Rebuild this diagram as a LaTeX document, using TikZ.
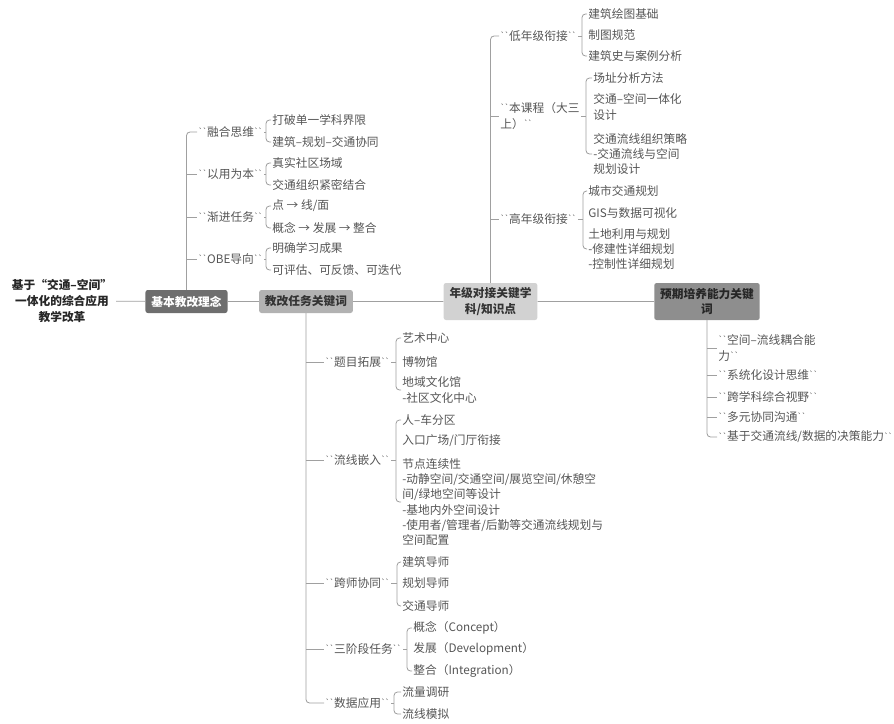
\documentclass[tikz,border=0pt]{standalone}
\usepackage{fontspec}
\newfontfamily\cjk{Noto Sans CJK SC}
\usepackage{tikz}
\definecolor{linegray}{HTML}{A0A0A0}
\definecolor{leafgray}{HTML}{555555}
\definecolor{darkbox}{HTML}{6E6E6E}
\definecolor{midbox}{HTML}{B2B2B2}
\definecolor{lightbox}{HTML}{D2D2D2}
\definecolor{greybox}{HTML}{8E8E8E}
% small double tick round the branch labels
\newcommand\tk{\raisebox{1.6pt}{\fontsize{6.5}{6.5}\selectfont`\kern-0.4pt`}}

\begin{document}
\begin{tikzpicture}[x=0.03cm,y=-0.03cm,font=\cjk\fontsize{10}{13}\selectfont]
    \tikzset{
        link/.style={draw=linegray,line width=0.7pt,rounded corners=3pt},
        topic/.style={rounded corners=2pt,inner xsep=5pt,minimum height=0.69cm,align=center,font=\cjk\bfseries\fontsize{10}{13}\selectfont},
        branch/.style={anchor=west,inner sep=1pt,align=left,text=leafgray},
        leaf/.style={anchor=west,inner sep=1pt,align=left,text=leafgray}
    }
    \useasboundingbox (0,0) rectangle (894,723);
    % root and main topics
    \node[align=center,font=\cjk\bfseries\fontsize{10}{14}\selectfont,text=black!85] (root) at (62,301) {基于“交通–空间”\\一体化的综合应用\\教学改革};
    \node[topic,fill=darkbox,text=white] (ideas) at (186.5,301.5) {基本教改理念};
    \node[topic,fill=midbox,text=black!80] (tasks) at (306,301.5) {教改任务关键词};
    \node[topic,fill=lightbox,text=black!80,minimum height=1.11cm] (subjects) at (490.5,301.5) {年级对接关键学\\科/知识点};
    \node[topic,fill=greybox,text=black!85,minimum height=1.11cm] (abilities) at (707,301.5) {预期培养能力关键\\词};
    \draw[link] (root) -- (ideas) -- (tasks) -- (subjects) -- (abilities);
    % ideas
    \node[branch] (i1) at (197,132) {\tk 融合思维\tk};
    \node[leaf] (i1a) at (271,120) {打破单一学科界限};
    \node[leaf] (i1b) at (271,142) {建筑–规划–交通协同};
    \coordinate (k1) at (266,132);
    \node[branch] (i2) at (197,174) {\tk 以用为本\tk};
    \node[leaf] (i2a) at (271,163) {真实社区场域};
    \node[leaf] (i2b) at (271,185) {交通组织紧密结合};
    \coordinate (k2) at (266,174);
    \node[branch] (i3) at (197,217) {\tk 渐进任务\tk};
    \node[leaf] (i3a) at (271,206) {点 → 线/面};
    \node[leaf] (i3b) at (271,228) {概念 → 发展 → 整合};
    \coordinate (k3) at (266,217);
    \node[branch] (i4) at (197,259) {\tk OBE导向\tk};
    \node[leaf] (i4a) at (271,248) {明确学习成果};
    \node[leaf] (i4b) at (271,270) {可评估、可反馈、可迭代};
    \coordinate (k4) at (266,259);
    \draw[link] (ideas.north) |- (i1.west);
    \foreach \br in {i2,i3,i4} \draw[link] (ideas.north |- \br.west) -- (\br.west);
    % tasks
    \node[branch] (t1) at (324,362) {\tk 题目拓展\tk};
    \node[leaf] (t1a) at (401,338) {艺术中心};
    \node[leaf] (t1b) at (401,362) {博物馆};
    \node[leaf] (t1c) at (401,390) {地域文化馆\\-社区文化中心};
    \coordinate (k5) at (396,362);
    \node[branch] (t2) at (324,460) {\tk 流线嵌入\tk};
    \node[leaf] (t2a) at (401,420) {人–车分区};
    \node[leaf] (t2b) at (401,441) {入口广场/门厅衔接};
    \node[leaf] (t2c) at (401,502) {节点连续性\\-动静空间/交通空间/展览空间/休憩空\\间/绿地空间等设计\\-基地内外空间设计\\-使用者/管理者/后勤等交通流线规划与\\空间配置};
    \coordinate (k6) at (396,460);
    \node[branch] (t3) at (324,583) {\tk 跨师协同\tk};
    \node[leaf] (t3a) at (401,562) {建筑导师};
    \node[leaf] (t3b) at (401,583) {规划导师};
    \node[leaf] (t3c) at (401,606) {交通导师};
    \coordinate (k7) at (397,583);
    \node[branch] (t4) at (324,649) {\tk 三阶段任务\tk};
    \node[leaf] (t4a) at (412,628) {概念（Concept）};
    \node[leaf] (t4b) at (412,649) {发展（Development）};
    \node[leaf] (t4c) at (412,671) {整合（Integration）};
    \coordinate (k8) at (407,649);
    \node[branch] (t5) at (324,703) {\tk 数据应用\tk};
    \node[leaf] (t5a) at (401,692) {流量调研};
    \node[leaf] (t5b) at (401,714) {流线模拟};
    \coordinate (k9) at (394,703);
    \draw[link] (tasks.south) |- (t5.west);
    \foreach \br in {t1,t2,t3,t4} \draw[link] (tasks.south |- \br.west) -- (\br.west);
    % subjects
    \node[branch] (s1) at (499,36) {\tk 低年级衔接\tk};
    \node[leaf] (s1a) at (587,14) {建筑绘图基础};
    \node[leaf] (s1b) at (587,35) {制图规范};
    \node[leaf] (s1c) at (587,56) {建筑史与案例分析};
    \coordinate (k10) at (582,36);
    \node[branch] (s2) at (499,116) {\tk 本课程（大三\\上）\tk};
    \node[leaf] (s2a) at (592,78) {场址分析方法};
    \node[leaf] (s2b) at (592,107) {交通–空间一体化\\设计};
    \node[leaf] (s2c) at (592,154) {交通流线组织策略\\-交通流线与空间\\规划设计};
    \coordinate (k11) at (586,116);
    \node[branch] (s3) at (499,219) {\tk 高年级衔接\tk};
    \node[leaf] (s3a) at (587,191) {城市交通规划};
    \node[leaf] (s3b) at (587,213) {GIS与数据可视化};
    \node[leaf] (s3c) at (587,249) {土地利用与规划\\-修建性详细规划\\-控制性详细规划};
    \coordinate (k12) at (583,219);
    \draw[link] (subjects.north) |- (s1.west);
    \foreach \br in {s2,s3} \draw[link] (subjects.north |- \br.west) -- (\br.west);
    % abilities
    \node[branch] (a1) at (717,348) {\tk 空间–流线耦合能\\力\tk};
    \node[branch] (a2) at (717,375) {\tk 系统化设计思维\tk};
    \node[branch] (a3) at (717,397) {\tk 跨学科综合视野\tk};
    \node[branch] (a4) at (717,417) {\tk 多元协同沟通\tk};
    \node[branch] (a5) at (717,437) {\tk 基于交通流线/数据的决策能力\tk};
    \draw[link] (abilities.south) |- (a5.west);
    \foreach \br in {a1,a2,a3,a4} \draw[link] (abilities.south |- \br.west) -- (\br.west);
    % brackets
    \foreach \lb/\fst/\lst/\kk in {i1/i1a/i1b/k1,i2/i2a/i2b/k2,i3/i3a/i3b/k3,i4/i4a/i4b/k4,
        t1/t1a/t1c/k5,t2/t2a/t2c/k6,t3/t3a/t3c/k7,t4/t4a/t4c/k8,t5/t5a/t5b/k9,
        s1/s1a/s1c/k10,s2/s2a/s2c/k11,s3/s3a/s3c/k12} {
        \draw[link] (\lb.east) -- (\kk);
        \draw[link] (\fst.west) -| (\kk) |- (\lst.west);
    }
\end{tikzpicture}
\end{document}
